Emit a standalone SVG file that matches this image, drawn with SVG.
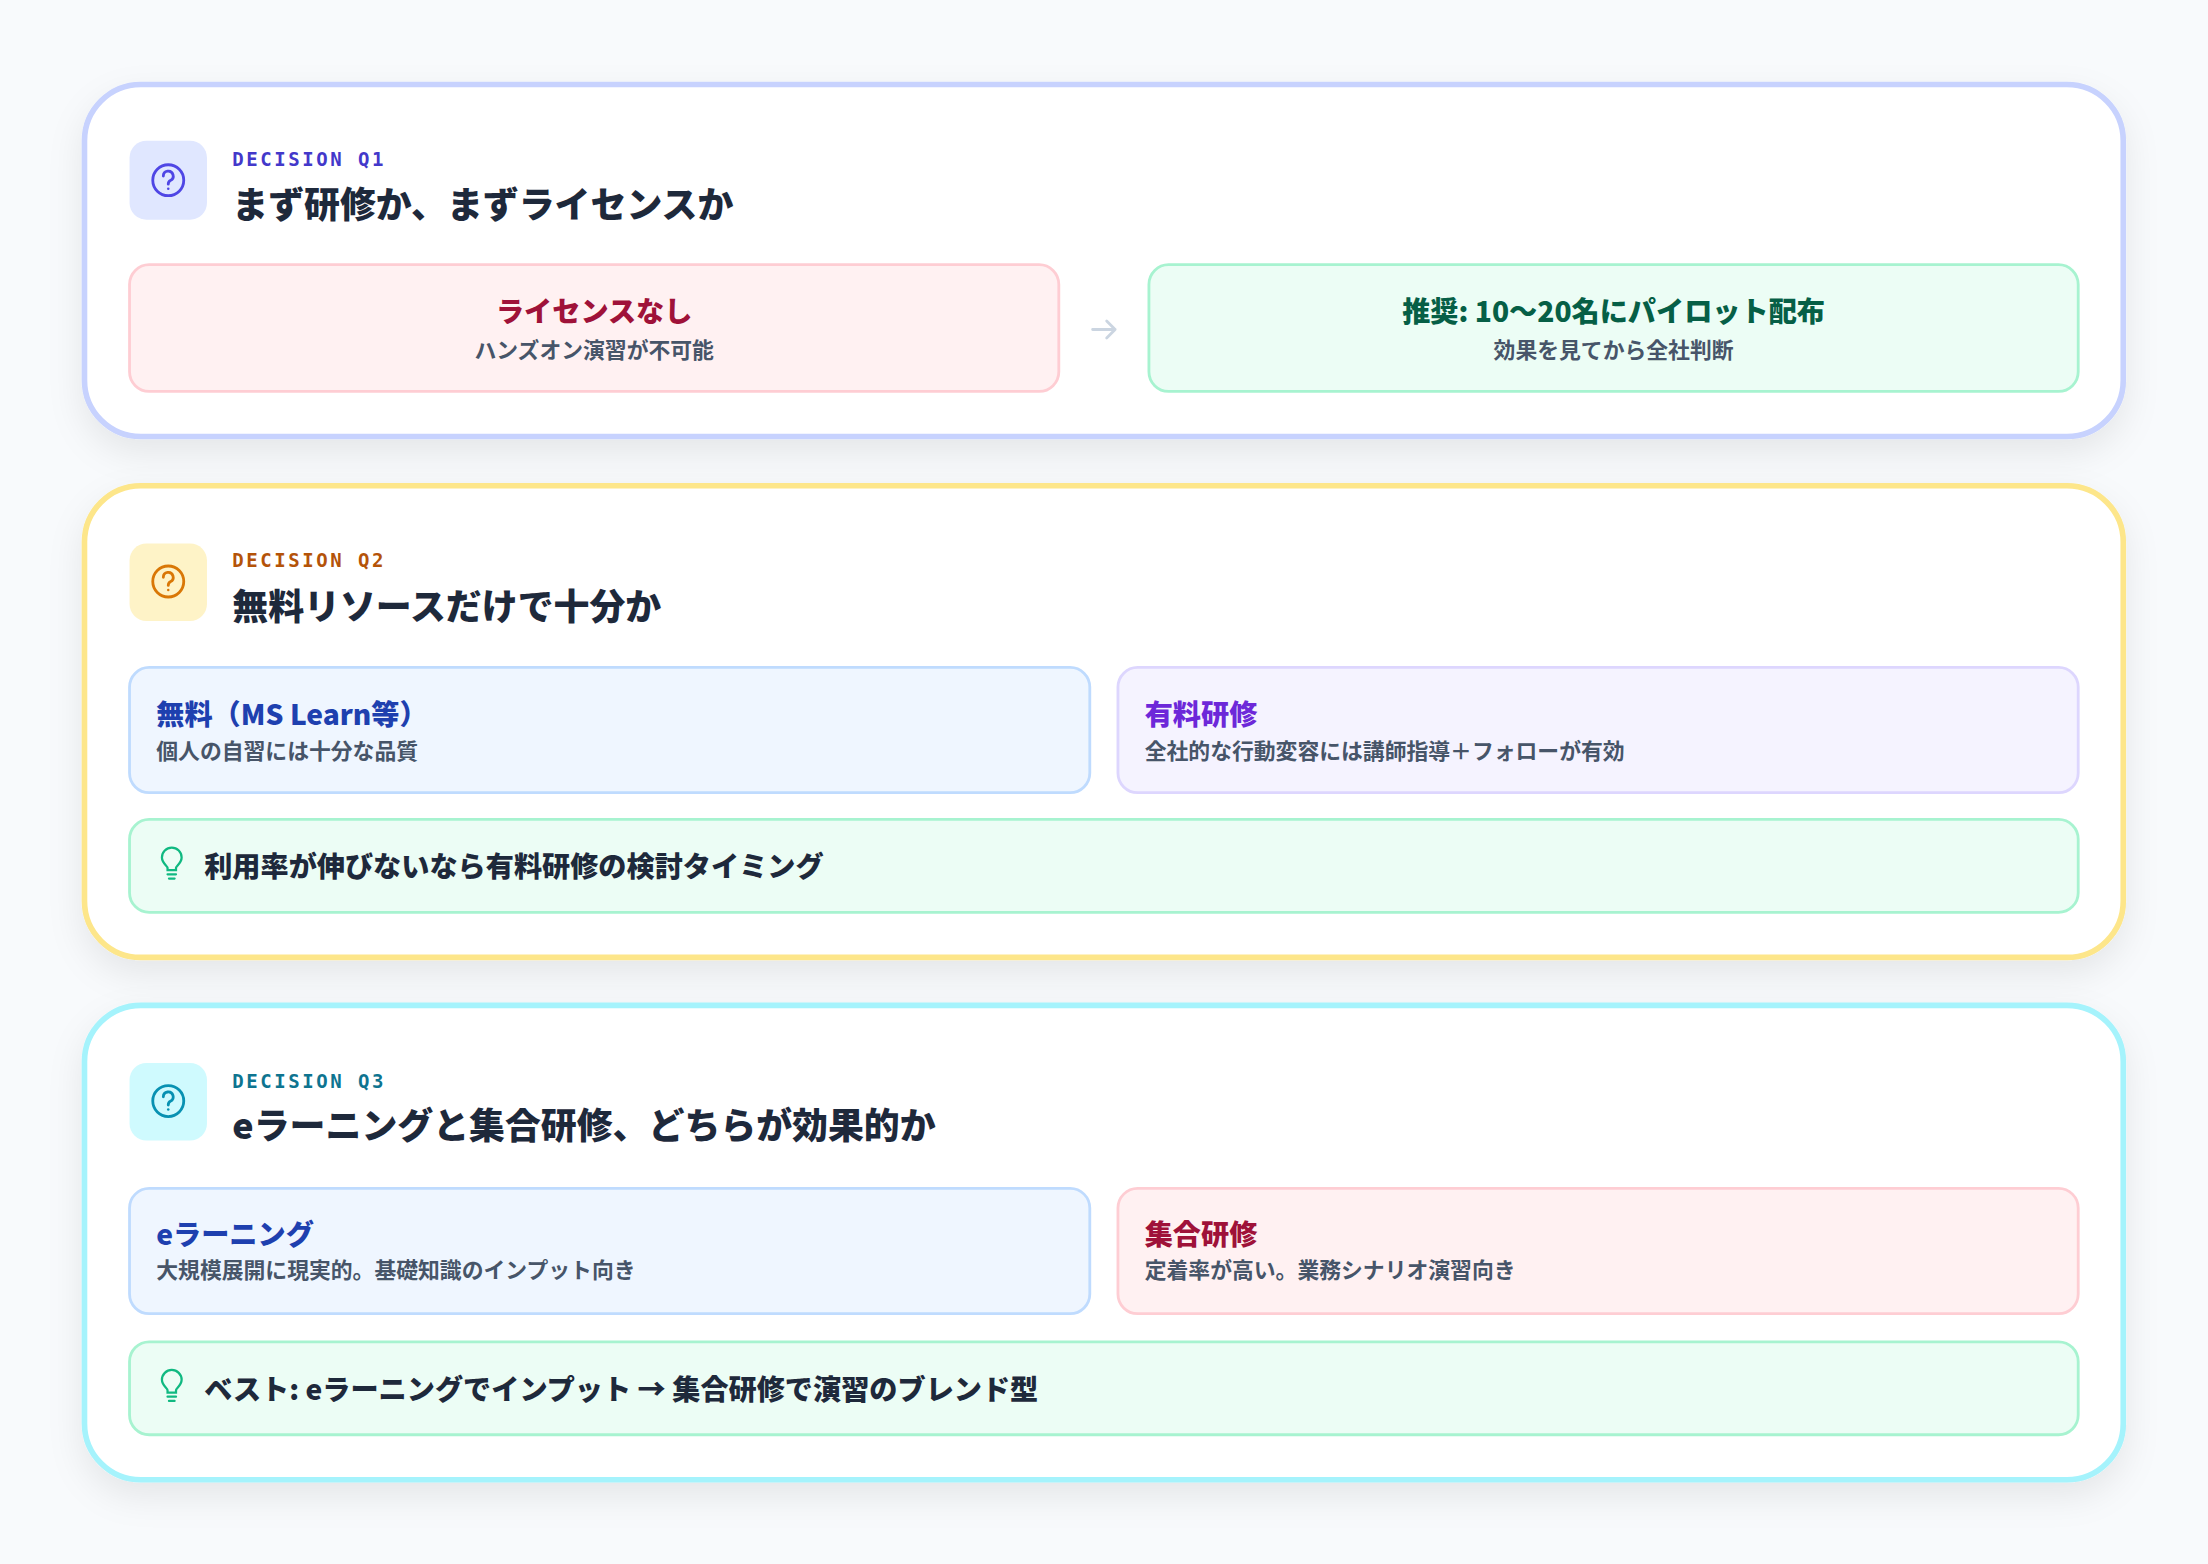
<svg xmlns="http://www.w3.org/2000/svg" width="2208" height="1564" viewBox="0 0 2208 1564">
<defs>
<filter id="sh" x="-5%" y="-10%" width="110%" height="130%"><feDropShadow dx="0" dy="10" stdDeviation="12" flood-color="#0f172a" flood-opacity="0.08"/></filter>
<style>
.card{fill:#fff;stroke-width:4}
.lbl{font-family:"DejaVu Sans Mono","Liberation Mono",monospace;font-size:13.5px;font-weight:bold;letter-spacing:1.8px}
.ttl{font-family:"Noto Sans CJK JP","Noto Sans",sans-serif;font-size:25.5px;font-weight:900;fill:#1e293b}
.bt{font-family:"Noto Sans CJK JP","Noto Sans",sans-serif;font-size:20px;font-weight:900}
.bs{font-family:"Noto Sans CJK JP","Noto Sans",sans-serif;font-size:15.5px;font-weight:bold;fill:#475569}
.tip{font-family:"Noto Sans CJK JP","Noto Sans",sans-serif;font-size:20px;font-weight:900;fill:#1e293b}
.box{stroke-width:2}
.red{fill:#fff1f2;stroke:#fecdd3}.grn{fill:#ecfdf5;stroke:#a7f3d0}.blu{fill:#eff6ff;stroke:#bfdbfe}.pur{fill:#f5f3ff;stroke:#ddd6fe}
.q{fill:none;stroke-width:2;stroke-linecap:round}
.bulb{fill:none;stroke:#10b981;stroke-width:1.6;stroke-linecap:round}
</style>
<g id="qicon"><circle cx="0" cy="0" r="11" class="q"/><path d="M-3.5,-3 a3.5,3.5 0 1 1 5,3.2 c-1.2,0.6 -1.5,1.3 -1.5,2.6" class="q"/><circle cx="0" cy="6" r="0.9" stroke="none"/></g>
<g id="bulbicon"><path d="M-3,4 v-1.5 c0,-1.5 -4,-3.5 -4,-7.5 a7,7 0 0 1 14,0 c0,4 -4,6 -4,7.5 v1.5 z" class="bulb"/><path d="M-3,7 h6 M-2,10 h4" class="bulb"/></g>
</defs>
<rect width="2208" height="1564" fill="#f8fafc"/>
<g transform="scale(1.408)">
<g id="q1">
<rect x="60" y="60" width="1448" height="250" rx="40" class="card" stroke="#c7d2fe" filter="url(#sh)"/>
<rect x="92" y="100" width="55" height="56" rx="12" fill="#e0e7ff"/>
<use href="#qicon" x="119.5" y="128" stroke="#4f46e5" fill="#4f46e5"/>
<text x="165" y="118" class="lbl" fill="#4338ca">DECISION Q1</text>
<text x="165" y="155" class="ttl">まず研修か、まずライセンスか</text>
<g id="q1a"><rect x="92" y="188" width="660" height="90" rx="14" class="box red"/>
<text x="422" y="229" class="bt" fill="#9f1239" text-anchor="middle">ライセンスなし</text>
<text x="422" y="254" class="bs" text-anchor="middle">ハンズオン演習が不可能</text></g>
<g id="q1b"><rect x="816" y="188" width="660" height="90" rx="14" class="box grn"/>
<text x="1146" y="229" class="bt" fill="#065f46" text-anchor="middle">推奨: 10〜20名にパイロット配布</text>
<text x="1146" y="254" class="bs" text-anchor="middle">効果を見てから全社判断</text></g>
</g>
<g id="connectors"><path d="M776,234 h16 M786,228 l6,6 l-6,6" fill="none" stroke="#cbd5e1" stroke-width="2" stroke-linecap="round" stroke-linejoin="round"/></g>
<g id="q2">
<rect x="60" y="345" width="1448" height="335" rx="40" class="card" stroke="#fde68a" filter="url(#sh)"/>
<rect x="92" y="386" width="55" height="55" rx="12" fill="#fef3c7"/>
<use href="#qicon" x="119.5" y="413" stroke="#d97706" fill="#d97706"/>
<text x="165" y="403" class="lbl" fill="#b45309">DECISION Q2</text>
<text x="165" y="440" class="ttl">無料リソースだけで十分か</text>
<g id="q2a"><rect x="92" y="474" width="682" height="89" rx="14" class="box blu"/>
<text x="111" y="515" class="bt" fill="#1e40af">無料（MS Learn等）</text>
<text x="111" y="539" class="bs">個人の自習には十分な品質</text></g>
<g id="q2b"><rect x="794" y="474" width="682" height="89" rx="14" class="box pur"/>
<text x="813" y="515" class="bt" fill="#6d28d9">有料研修</text>
<text x="813" y="539" class="bs">全社的な行動変容には講師指導＋フォローが有効</text></g>
<g id="q2tip"><rect x="92" y="582" width="1384" height="66" rx="14" class="box grn"/>
<use href="#bulbicon" x="122" y="614"/>
<text x="145" y="623" class="tip">利用率が伸びないなら有料研修の検討タイミング</text></g>
</g>
<g id="q3">
<rect x="60" y="714" width="1448" height="337" rx="40" class="card" stroke="#a5f3fc" filter="url(#sh)"/>
<rect x="92" y="755" width="55" height="55" rx="12" fill="#cffafe"/>
<use href="#qicon" x="119.5" y="782" stroke="#0891b2" fill="#0891b2"/>
<text x="165" y="773" class="lbl" fill="#0e7490">DECISION Q3</text>
<text x="165" y="809" class="ttl">eラーニングと集合研修、どちらが効果的か</text>
<g id="q3a"><rect x="92" y="844" width="682" height="89" rx="14" class="box blu"/>
<text x="111" y="884" class="bt" fill="#1e40af">eラーニング</text>
<text x="111" y="908" class="bs">大規模展開に現実的。基礎知識のインプット向き</text></g>
<g id="q3b"><rect x="794" y="844" width="682" height="89" rx="14" class="box red"/>
<text x="813" y="884" class="bt" fill="#9f1239">集合研修</text>
<text x="813" y="908" class="bs">定着率が高い。業務シナリオ演習向き</text></g>
<g id="q3tip"><rect x="92" y="953" width="1384" height="66" rx="14" class="box grn"/>
<use href="#bulbicon" x="122" y="985"/>
<text x="145" y="994" class="tip">ベスト: eラーニングでインプット → 集合研修で演習のブレンド型</text></g>
</g>
</g>
</svg>
